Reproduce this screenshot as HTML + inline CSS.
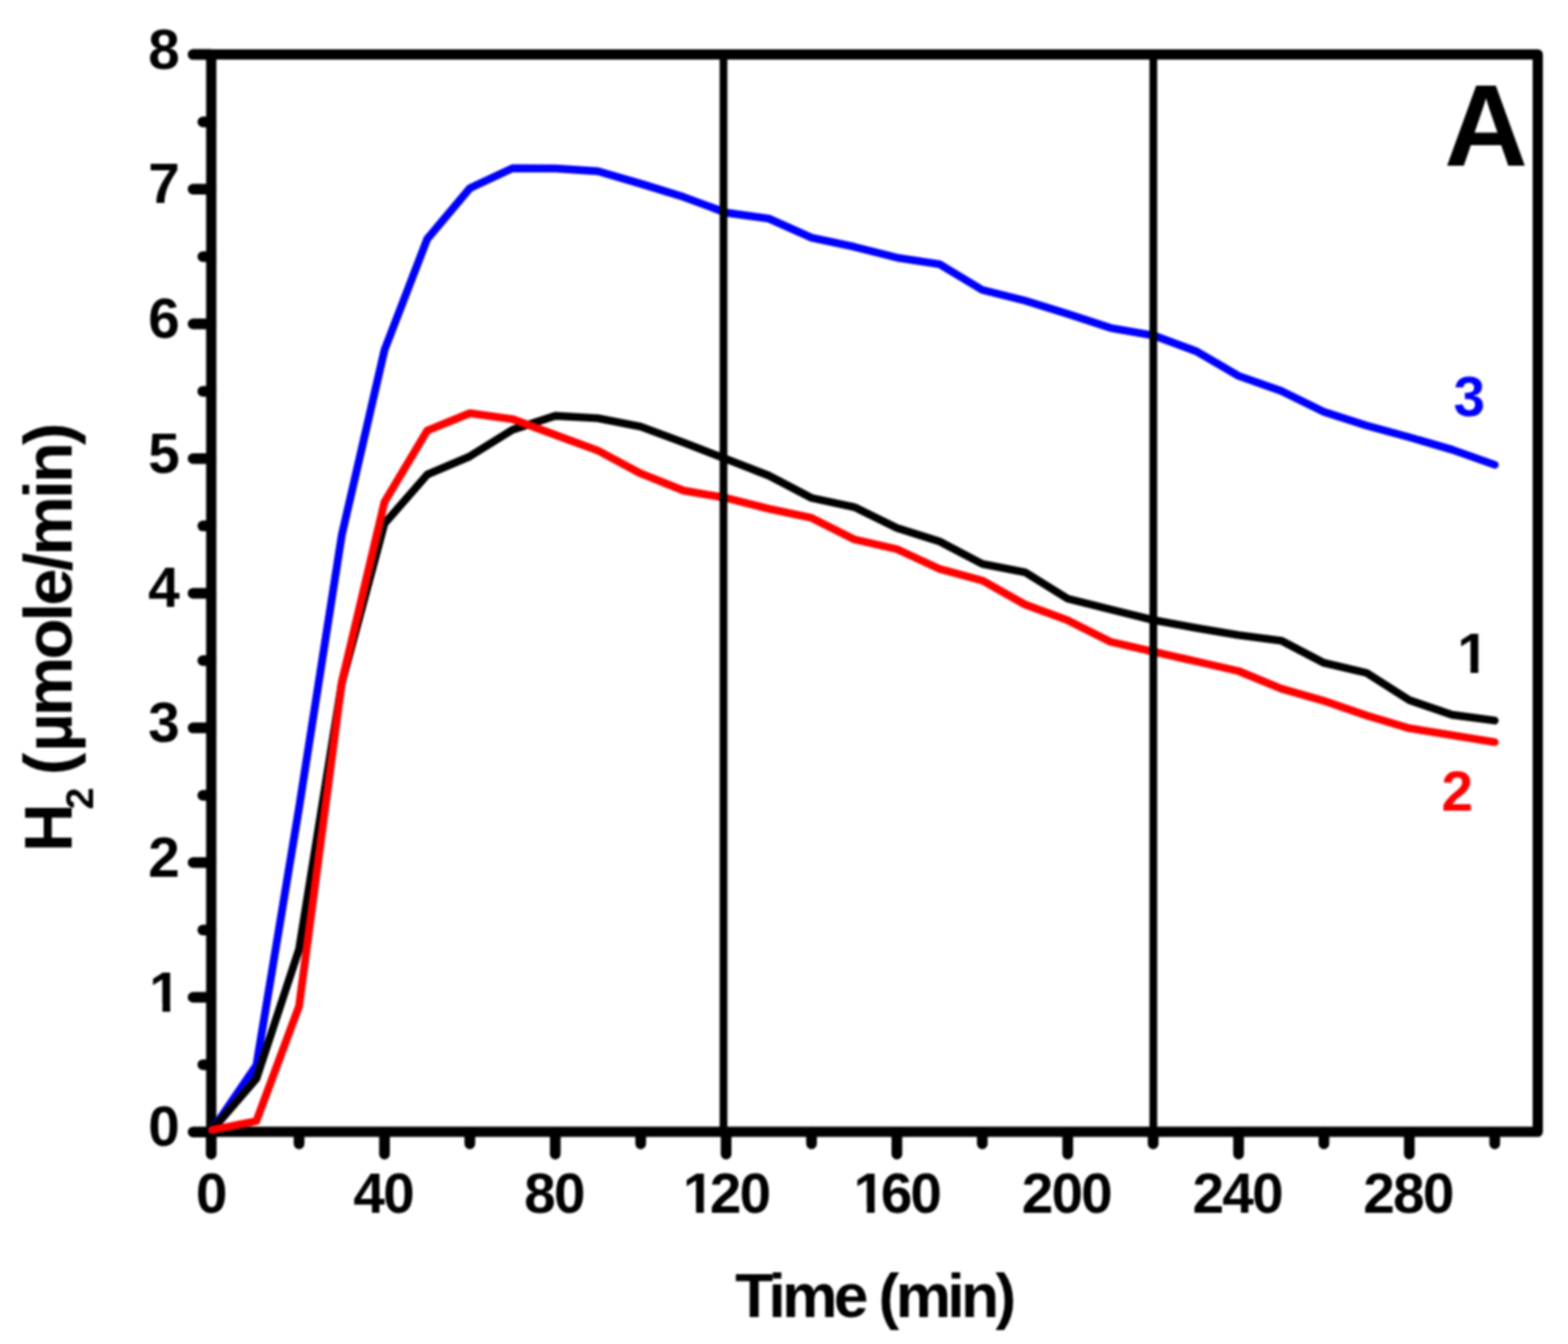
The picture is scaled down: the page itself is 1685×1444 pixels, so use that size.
<!DOCTYPE html>
<html><head><meta charset="utf-8"><title>H2 production</title>
<style>
html,body{margin:0;padding:0;background:#fff;}
body{width:1685px;height:1444px;overflow:hidden;}
svg{display:block;filter:blur(1px);}
text{font-family:"Liberation Sans",Arial,Helvetica,sans-serif;font-weight:bold;}
</style></head><body>
<svg width="1685" height="1444" viewBox="0 0 1685 1444">
<rect x="0" y="0" width="1685" height="1444" fill="#fff"/>
<g stroke="#000" stroke-width="11.5" stroke-linecap="round" fill="none">
<line x1="227.0" y1="1216.5" x2="227.0" y2="1240.0"/>
<line x1="321.4" y1="1216.5" x2="321.4" y2="1229.0"/>
<line x1="413.2" y1="1216.5" x2="413.2" y2="1240.0"/>
<line x1="504.9" y1="1216.5" x2="504.9" y2="1229.0"/>
<line x1="596.7" y1="1216.5" x2="596.7" y2="1240.0"/>
<line x1="688.5" y1="1216.5" x2="688.5" y2="1229.0"/>
<line x1="780.3" y1="1216.5" x2="780.3" y2="1240.0"/>
<line x1="872.1" y1="1216.5" x2="872.1" y2="1229.0"/>
<line x1="963.8" y1="1216.5" x2="963.8" y2="1240.0"/>
<line x1="1055.6" y1="1216.5" x2="1055.6" y2="1229.0"/>
<line x1="1147.4" y1="1216.5" x2="1147.4" y2="1240.0"/>
<line x1="1239.2" y1="1216.5" x2="1239.2" y2="1229.0"/>
<line x1="1331.0" y1="1216.5" x2="1331.0" y2="1240.0"/>
<line x1="1422.7" y1="1216.5" x2="1422.7" y2="1229.0"/>
<line x1="1514.5" y1="1216.5" x2="1514.5" y2="1240.0"/>
<line x1="1606.3" y1="1216.5" x2="1606.3" y2="1229.0"/>
<line x1="226.5" y1="1216.2" x2="207.5" y2="1216.2"/>
<line x1="226.5" y1="1143.9" x2="218.0" y2="1143.9"/>
<line x1="226.5" y1="1071.5" x2="207.5" y2="1071.5"/>
<line x1="226.5" y1="999.2" x2="218.0" y2="999.2"/>
<line x1="226.5" y1="926.8" x2="207.5" y2="926.8"/>
<line x1="226.5" y1="854.5" x2="218.0" y2="854.5"/>
<line x1="226.5" y1="782.1" x2="207.5" y2="782.1"/>
<line x1="226.5" y1="709.8" x2="218.0" y2="709.8"/>
<line x1="226.5" y1="637.4" x2="207.5" y2="637.4"/>
<line x1="226.5" y1="565.1" x2="218.0" y2="565.1"/>
<line x1="226.5" y1="492.7" x2="207.5" y2="492.7"/>
<line x1="226.5" y1="420.4" x2="218.0" y2="420.4"/>
<line x1="226.5" y1="348.0" x2="207.5" y2="348.0"/>
<line x1="226.5" y1="275.7" x2="218.0" y2="275.7"/>
<line x1="226.5" y1="203.3" x2="207.5" y2="203.3"/>
<line x1="226.5" y1="131.0" x2="218.0" y2="131.0"/>
<line x1="226.5" y1="58.6" x2="207.5" y2="58.6"/>
</g>
<path d="M227.0,58.5 H1652.5 V1216.0 H227.0 Z" stroke="#000" stroke-width="11" fill="none" stroke-linejoin="round"/>
<g fill="none" stroke-width="8.4" stroke-linejoin="round" stroke-linecap="round">
<polyline stroke="#0000ff" points="228.0,1214.0 275.5,1144.7 321.4,867.7 367.3,574.9 413.2,376.0 459.1,256.8 504.9,202.3 550.8,180.7 596.7,181.0 642.6,184.0 688.5,197.4 734.4,211.6 780.3,228.5 826.2,234.9 872.1,255.4 918.0,265.2 963.8,276.8 1009.7,283.9 1055.6,311.5 1101.5,323.0 1147.4,337.2 1193.3,352.3 1239.2,360.3 1285.1,377.2 1331.0,403.9 1376.8,420.0 1422.7,442.4 1468.6,457.3 1514.5,469.8 1560.4,483.1 1606.3,499.4"/>
<polyline stroke="#000000" points="228.0,1214.0 275.5,1159.0 321.4,1019.8 367.3,734.0 413.2,562.4 459.1,509.9 504.9,490.3 550.8,461.8 596.7,446.7 642.6,449.4 688.5,458.4 734.4,475.4 780.3,493.2 826.2,511.0 872.1,535.0 918.0,544.8 963.8,567.3 1009.7,581.8 1055.6,605.9 1101.5,614.8 1147.4,643.3 1193.3,654.8 1239.2,666.2 1285.1,674.6 1331.0,682.4 1376.8,688.3 1422.7,712.2 1468.6,723.0 1514.5,752.3 1560.4,768.0 1606.3,774.2"/>
<polyline stroke="#ff0000" points="228.0,1214.0 275.5,1204.5 321.4,1081.0 367.3,733.0 413.2,539.3 459.1,462.7 504.9,444.0 550.8,450.3 596.7,467.2 642.6,484.1 688.5,508.7 734.4,527.0 780.3,535.0 826.2,546.6 872.1,556.4 918.0,579.5 963.8,590.0 1009.7,611.2 1055.6,623.7 1101.5,649.5 1147.4,666.4 1193.3,689.5 1239.2,700.1 1285.1,710.5 1331.0,721.0 1376.8,739.9 1422.7,753.0 1468.6,768.7 1514.5,782.4 1560.4,789.9 1606.3,797.4"/>
</g>
<g stroke="#000" stroke-width="8.3" fill="none">
<line x1="777.5" y1="58.5" x2="777.5" y2="1216.0"/>
<line x1="1239.4" y1="58.5" x2="1239.4" y2="1216.0"/>
</g>
<g font-size="61" fill="#000" letter-spacing="-2">
<text x="191.1" y="1231.2" text-anchor="end">0</text>
<text x="191.1" y="1086.5" text-anchor="end" dx="1.15">1</text>
<text x="191.1" y="941.8" text-anchor="end">2</text>
<text x="191.1" y="797.1" text-anchor="end">3</text>
<text x="191.1" y="652.4" text-anchor="end">4</text>
<text x="191.1" y="507.7" text-anchor="end">5</text>
<text x="191.1" y="363.0" text-anchor="end">6</text>
<text x="191.1" y="218.3" text-anchor="end">7</text>
<text x="191.1" y="73.6" text-anchor="end">8</text>
<text x="226.5" y="1303" text-anchor="middle">0</text>
<text x="411.7" y="1303" text-anchor="middle">40</text>
<text x="595.2" y="1303" text-anchor="middle">80</text>
<text x="777.33" y="1303" text-anchor="middle" dx="2.9 -2.9">120</text>
<text x="960.89" y="1303" text-anchor="middle" dx="2.9 -2.9">160</text>
<text x="1145.9" y="1303" text-anchor="middle">200</text>
<text x="1329.5" y="1303" text-anchor="middle">240</text>
<text x="1513.0" y="1303" text-anchor="middle">280</text>
</g>
<text x="790" y="1414.8" font-size="67" textLength="302" lengthAdjust="spacing">Time (min)</text>
<text transform="translate(76.5,915.2) rotate(-90)" font-size="72" textLength="461" lengthAdjust="spacing">H<tspan font-size="42.7" dx="-3.5" dy="23.3">2</tspan><tspan dx="-0.5" dy="-23.3"> (</tspan><tspan dx="4">µmole/min)</tspan></text>
<text x="1552" y="177.6" font-size="124.4">A</text>
<text x="1562" y="447.3" font-size="61" fill="#0000ff">3</text>
<text x="1566" y="723" font-size="61" fill="#000">1</text>
<text x="1549" y="871" font-size="61" fill="#ff0000">2</text>
<g fill="#fff">
<rect x="163.15" y="1079.07" width="11.40" height="8.43"/>
<rect x="182.92" y="1079.07" width="10.82" height="8.43"/>
<rect x="736.62" y="1295.57" width="11.40" height="8.43"/>
<rect x="756.39" y="1295.57" width="8.56" height="8.43"/>
<rect x="920.18" y="1295.57" width="11.40" height="8.43"/>
<rect x="939.95" y="1295.57" width="10.05" height="8.43"/>
<rect x="1568.84" y="715.57" width="11.40" height="8.43"/>
<rect x="1588.61" y="715.57" width="10.82" height="8.43"/>
</g>
</svg>
</body></html>
